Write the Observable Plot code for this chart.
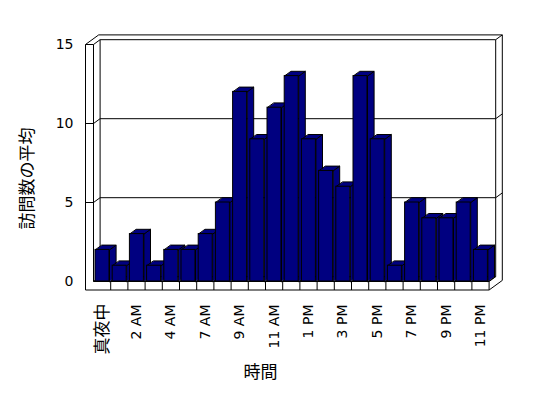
<!DOCTYPE html>
<html>
<head>
<meta charset="utf-8">
<script src="https://cdn.jsdelivr.net/npm/d3@7"></script>
<script src="https://cdn.jsdelivr.net/npm/@observablehq/plot@0.6"></script>
<style>
  html, body { margin: 0; padding: 0; background: white; }
</style>
</head>
<body>
<div id="chart"></div>
<script>
// ---- data ----
const hours = ["真夜中","1 AM","2 AM","3 AM","4 AM","5 AM","7 AM","8 AM","9 AM","10 AM","11 AM","正午",
               "1 PM","2 PM","3 PM","4 PM","5 PM","6 PM","7 PM","8 PM","9 PM","10 PM","11 PM"];
const visits = [2,1,3,1,2,2,3,5,12,9,11,13,9,7,6,13,9,1,5,4,4,5,2];
const yTicks = [0,5,10,15];
const gridValues = [5,10];
const yTitle = "訪問数の平均";
const xTitle = "時間";

// ---- layout ----
const W = 548, H = 398;
const mL = 93, mR = 59.4, mT = 44, mB = 117;
const N = hours.length, YMAX = 15;
const kx = N / (W - mL - mR);      // data units per px (x)
const ky = YMAX / (H - mT - mB);   // data units per px (y)
const DX = 6.6, DY = 4.8;          // 3D depth offset in px
const WALL = 8, FLOOR = 8.5;       // wall / floor thickness px
const BAR0 = 2, BAR1 = 16;         // bar front face within slot (px)

const P = (xu, yu, px, py) => ({x: xu + px * kx, y: yu - py * ky});
const segs = [];
const seg = (a, b) => segs.push({x1: a.x, y1: a.y, x2: b.x, y2: b.y});

// left wall
seg(P(0, YMAX, -WALL, 0), P(0, 0, -WALL, FLOOR));
seg(P(0, YMAX, 0, 0), P(0, 0, 0, 0));
seg(P(0, YMAX, -WALL, 0), P(0, YMAX, 0, 0));
seg(P(0, YMAX, 0, 0), P(0, YMAX, DX, -DY));
seg(P(0, YMAX, -WALL, 0), P(0, YMAX, -WALL + 2*DX, -2*DY));
seg(P(0, YMAX, DX, -DY), P(0, 0, DX, -DY));
// back wall
seg(P(0, YMAX, DX, -DY), P(N, YMAX, DX, -DY));
seg(P(0, YMAX, -WALL + 2*DX, -2*DY), P(N, YMAX, 2*DX, -2*DY));
seg(P(N, YMAX, DX, -DY), P(N, YMAX, 2*DX, -2*DY));
seg(P(N, YMAX, DX, -DY), P(N, 0, DX, -DY));
seg(P(N, YMAX, 2*DX, -2*DY), P(N, 0, 2*DX, FLOOR - 2*DY));
// gridlines
for (const v of gridValues) {
  seg(P(0, v, -WALL, 0), P(0, v, 0, 0));
  seg(P(0, v, 0, 0), P(0, v, DX, -DY));
  seg(P(0, v, DX, -DY), P(N, v, DX, -DY));
  seg(P(N, v, DX, -DY), P(N, v, 2*DX, -2*DY));
}
// floor
seg(P(0, 0, 0, 0), P(N, 0, 0, 0));
seg(P(0, 0, -WALL, FLOOR), P(N, 0, 0, FLOOR));
seg(P(N, 0, 0, 0), P(N, 0, 0, FLOOR));
for (let i = 1; i < N; i++) seg(P(i, 0, 0, 0), P(i, 0, 0, FLOOR));
seg(P(N, 0, 0, 0), P(N, 0, DX, -DY));
seg(P(N, 0, 0, FLOOR), P(N, 0, 2*DX, FLOOR - 2*DY));
seg(P(0, 0, DX, -DY), P(N, 0, DX, -DY));
seg(P(0, 0, 0, 0), P(0, 0, DX, -DY));

// bars table
const bars = hours.map((h, i) => ({i, hour: h, value: visits[i]}));
const tops = [], sides = [];
for (const b of bars) {
  const {i, value: v} = b;
  [P(i, v, BAR0, 0), P(i, v, BAR1, 0), P(i, v, BAR1 + DX, -DY), P(i, v, BAR0 + DX, -DY)]
    .forEach(p => tops.push({id: i, ...p}));
  [P(i, 0, BAR1, 0), P(i, v, BAR1, 0), P(i, v, BAR1 + DX, -DY), P(i, 0, BAR1 + DX, -DY)]
    .forEach(p => sides.push({id: i, ...p}));
}

const isCJK = s => /[\u3040-\u30ff\u3400-\u9fff]/.test(s);
const tickRows = bars.filter(b => b.i % 2 === 0);
const NAVY = "#000080";
const LATIN = "'DejaVu Sans', 'Noto Sans CJK JP', sans-serif";
const CJK = "'Noto Sans CJK JP', sans-serif";

const chart = Plot.plot({
  width: W, height: H,
  marginLeft: mL, marginRight: mR, marginTop: mT, marginBottom: mB,
  x: {type: "linear", domain: [0, N], axis: null},
  y: {type: "linear", domain: [0, YMAX], axis: null},
  style: {background: "white", fontFamily: LATIN, fontSize: "14px", color: "black"},
  marks: [
    Plot.link(segs, {x1: "x1", y1: "y1", x2: "x2", y2: "y2", stroke: "black", strokeWidth: 1}),
    Plot.line(sides, {x: "x", y: "y", z: "id", curve: "linear-closed", fill: NAVY, stroke: "black", strokeWidth: 1}),
    Plot.line(tops, {x: "x", y: "y", z: "id", curve: "linear-closed", fill: NAVY, stroke: "black", strokeWidth: 1}),
    Plot.rect(bars, {x1: "i", x2: d => d.i + 1, y1: 0, y2: "value", insetLeft: BAR0, insetRight: (W - mL - mR) / N - BAR1, fill: NAVY, stroke: "black", strokeWidth: 1}),
    // y tick labels
    Plot.text(yTicks, {x: 0, y: d => d, text: d => String(d), dx: -20, textAnchor: "end", fontSize: 14, fontFamily: LATIN}),
    // x tick labels
    Plot.text(tickRows.filter(d => !isCJK(d.hour)), {x: d => d.i + 0.5, y: 0, text: "hour", rotate: -90, textAnchor: "end", dy: 23, fontSize: 14, fontFamily: LATIN}),
    Plot.text(tickRows.filter(d => isCJK(d.hour)), {x: d => d.i + 0.5, y: 0, text: "hour", rotate: -90, textAnchor: "end", dy: 22, fontSize: 17, fontFamily: CJK}),
    // titles
    Plot.text([yTitle], {text: d => d, frameAnchor: "left", rotate: -90, textAnchor: "middle", dx: -66, dy: 15.5, fontSize: 17, fontFamily: CJK}),
    Plot.text([xTitle], {text: d => d, frameAnchor: "bottom", textAnchor: "middle", dx: -30.8, dy: 96, fontSize: 17, fontFamily: CJK})
  ]
});
document.getElementById("chart").appendChild(chart);
</script>
</body>
</html>
